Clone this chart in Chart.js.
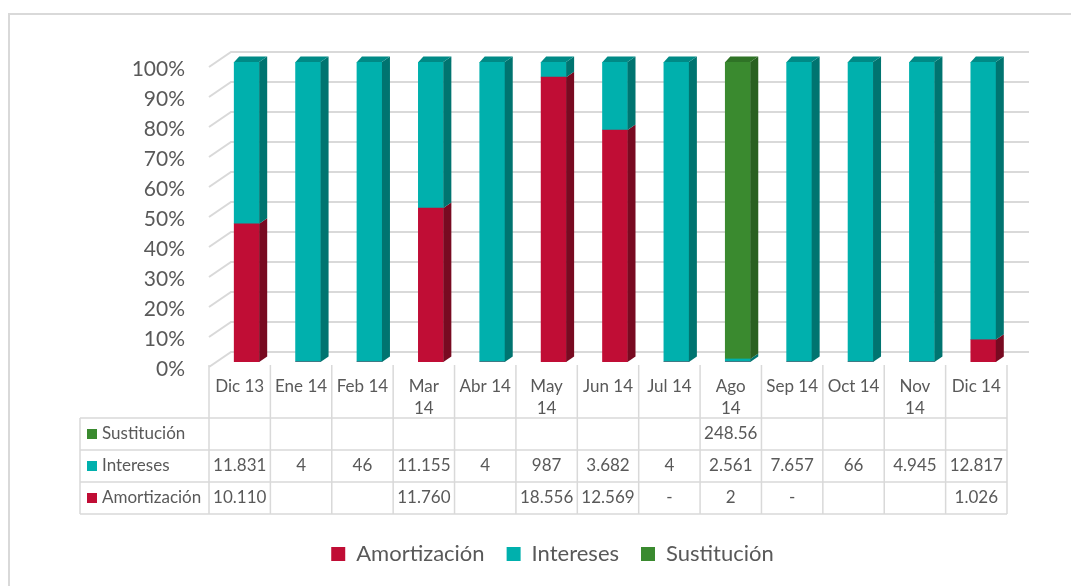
<!DOCTYPE html>
<html>
<head>
<meta charset="utf-8">
<script src="https://cdn.jsdelivr.net/npm/chart.js@4.4.1/dist/chart.umd.min.js"></script>
<style>
  html, body { margin: 0; padding: 0; background: #fff; }
</style>
</head>
<body>
<canvas id="grafico" width="1071" height="586"></canvas>
<script>
// categorias (meses), las que van en dos lineas en la tabla
const meses = ['Dic 13', 'Ene 14', 'Feb 14', ['Mar', '14'], 'Abr 14', ['May', '14'], 'Jun 14',
               'Jul 14', ['Ago', '14'], 'Sep 14', 'Oct 14', ['Nov', '14'], 'Dic 14'];

// valores de cada serie (miles)
const amortizacion = [10110, null, null, 11760, null, 18556, 12569, 0, 2, 0, null, null, 1026];
const intereses    = [11831, 4, 46, 11155, 4, 987, 3682, 4, 2561, 7657, 66, 4945, 12817];
const sustitucion  = [null, null, null, null, null, null, null, null, 248560, null, null, null, null];

// texto tal como sale en la tabla de datos
const amortizacionTxt = ['10.110', '', '', '11.760', '', '18.556', '12.569', '-', '2', '-', '', '', '1.026'];
const interesesTxt    = ['11.831', '4', '46', '11.155', '4', '987', '3.682', '4', '2.561', '7.657', '66', '4.945', '12.817'];
const sustitucionTxt  = ['', '', '', '', '', '', '', '', '248.56', '', '', '', ''];

const ticksPct = [0, 10, 20, 30, 40, 50, 60, 70, 80, 90, 100];

// 100% apilado
const totales = meses.map((m, i) => (amortizacion[i] || 0) + (intereses[i] || 0) + (sustitucion[i] || 0));
const pct = arr => arr.map((v, i) => v ? v / totales[i] * 100 : 0);

const colores = {
    amort: { front: '#c00d35', side: '#780a21', top: '#9a0b2b' },
    inter: { front: '#00b0ad', side: '#007470', top: '#008a86' },
    sust:  { front: '#3a8a2f', side: '#2a6021', top: '#2f7326' }
};
const gris = '#d9d9d9';
const texto = '#595959';
const SHIFT = 7;   // la cara frontal de la barra esta corrida a la derecha de la columna
const DX = 8, DY = -5.5;

Chart.defaults.font.family = 'Lato';
Chart.defaults.color = texto;

const fondo3d = {
    id: 'fondo3d',
    beforeDraw(chart) {
        const c = chart.ctx;
        c.save();
        c.fillStyle = '#fff';
        c.fillRect(0, 0, chart.width, chart.height);
        c.strokeStyle = gris;
        c.lineWidth = 2;
        c.strokeRect(9, 14, chart.width + 20, chart.height + 20);
        c.restore();
    },
    beforeDatasetsDraw(chart) {
        const c = chart.ctx, a = chart.chartArea, y = chart.scales.y;
        c.save();
        c.strokeStyle = gris;
        c.lineWidth = 2;
        ticksPct.forEach(v => {
            const py = y.getPixelForValue(v);
            const yb = py - 10, yf = py + 5;
            c.beginPath();
            c.moveTo(a.left - SHIFT, yf);
            c.lineTo(a.left + 15, yb);
            c.lineTo(a.right + 15, yb);
            c.stroke();
        });
        c.restore();
    },
    afterDatasetsDraw(chart) {
        const c = chart.ctx;
        const sets = chart.data.datasets;
        c.save();
        meses.forEach((m, i) => {
            let arriba = -1;
            sets.forEach((ds, d) => { if (ds.data[i] > 0) arriba = d; });
            sets.forEach((ds, d) => {
                if (!(ds.data[i] > 0)) return;
                const el = chart.getDatasetMeta(d).data[i];
                const p = el.getProps(['x', 'y', 'base', 'width'], true);
                const l = p.x - p.width / 2, r = p.x + p.width / 2;
                c.fillStyle = ds.colores.side;
                c.beginPath();
                c.moveTo(r, p.y);
                c.lineTo(r + DX, p.y + DY);
                c.lineTo(r + DX, p.base + DY);
                c.lineTo(r, p.base);
                c.closePath();
                c.fill();
                if (d === arriba) {
                    c.fillStyle = ds.colores.top;
                    c.beginPath();
                    c.moveTo(l, p.y);
                    c.lineTo(l + 5, p.y + DY);
                    c.lineTo(r + DX, p.y + DY);
                    c.lineTo(r, p.y);
                    c.closePath();
                    c.fill();
                }
            });
        });
        c.restore();
    },
    afterDraw(chart) {
        // tabla de datos debajo del grafico
        const c = chart.ctx, x = chart.scales.x, a = chart.chartArea;
        const colW = (a.right - a.left) / meses.length;
        const izq = 80, tabIzq = a.left - SHIFT, tabDer = a.right - SHIFT;
        const filas = [
            { ds: chart.data.datasets[2], txt: sustitucionTxt, y0: 418 },
            { ds: chart.data.datasets[1], txt: interesesTxt,   y0: 450 },
            { ds: chart.data.datasets[0], txt: amortizacionTxt, y0: 482 }
        ];
        const altoFila = 32;
        c.save();
        c.strokeStyle = gris;
        c.lineWidth = 1.5;
        c.beginPath();
        for (let i = 0; i <= meses.length; i++) {
            const px = tabIzq + i * colW;
            c.moveTo(px, 365);
            c.lineTo(px, 514);
        }
        c.moveTo(izq, 418);
        c.lineTo(izq, 514);
        [418, 450, 482, 514].forEach(py => { c.moveTo(izq, py); c.lineTo(tabDer, py); });
        c.stroke();

        c.font = '17px Lato';
        c.fillStyle = texto;
        c.textAlign = 'center';
        c.textBaseline = 'middle';
        meses.forEach((m, i) => {
            const cx = x.getPixelForValue(i) - SHIFT;
            const lineas = Array.isArray(m) ? m : [m];
            lineas.forEach((t, k) => c.fillText(t, cx, 387 + k * 22));
            filas.forEach(f => {
                if (f.txt[i]) c.fillText(f.txt[i], cx, f.y0 + altoFila / 2);
            });
        });
        c.textAlign = 'left';
        filas.forEach(f => {
            const cy = f.y0 + altoFila / 2;
            c.fillStyle = f.ds.colores.front;
            c.fillRect(87, cy - 5, 10, 10);
            c.fillStyle = texto;
            c.fillText(f.ds.label, 102, cy);
        });
        c.restore();
    }
};

new Chart(document.getElementById('grafico'), {
    type: 'bar',
    data: {
        labels: meses,
        datasets: [
            { label: 'Amortización', data: pct(amortizacion), backgroundColor: colores.amort.front, colores: colores.amort },
            { label: 'Intereses', data: pct(intereses), backgroundColor: colores.inter.front, colores: colores.inter },
            { label: 'Sustitución', data: pct(sustitucion), backgroundColor: colores.sust.front, colores: colores.sust }
        ]
    },
    options: {
        responsive: false,
        animation: false,
        devicePixelRatio: 1,
        barThickness: 25,
        layout: { padding: { top: 62, right: 57, bottom: 11, left: 91 } },
        plugins: {
            tooltip: { enabled: false },
            legend: {
                position: 'bottom',
                labels: { boxWidth: 14, boxHeight: 14, padding: 22, font: { size: 22 }, color: texto }
            }
        },
        scales: {
            x: {
                stacked: true,
                grid: { display: false, drawTicks: false },
                border: { display: false },
                ticks: { display: false },
                afterFit(s) { s.height = 159; }
            },
            y: {
                stacked: true,
                min: 0,
                max: 100,
                afterBuildTicks(s) { s.ticks = ticksPct.map(v => ({ value: v })); },
                afterFit(s) { s.width = 125; },
                grid: { display: false, drawTicks: false },
                border: { display: false },
                ticks: {
                    padding: 31,
                    labelOffset: 7,
                    font: { size: 21 },
                    color: texto,
                    callback: v => v + '%'
                }
            }
        }
    },
    plugins: [fondo3d]
});
</script>
</body>
</html>
